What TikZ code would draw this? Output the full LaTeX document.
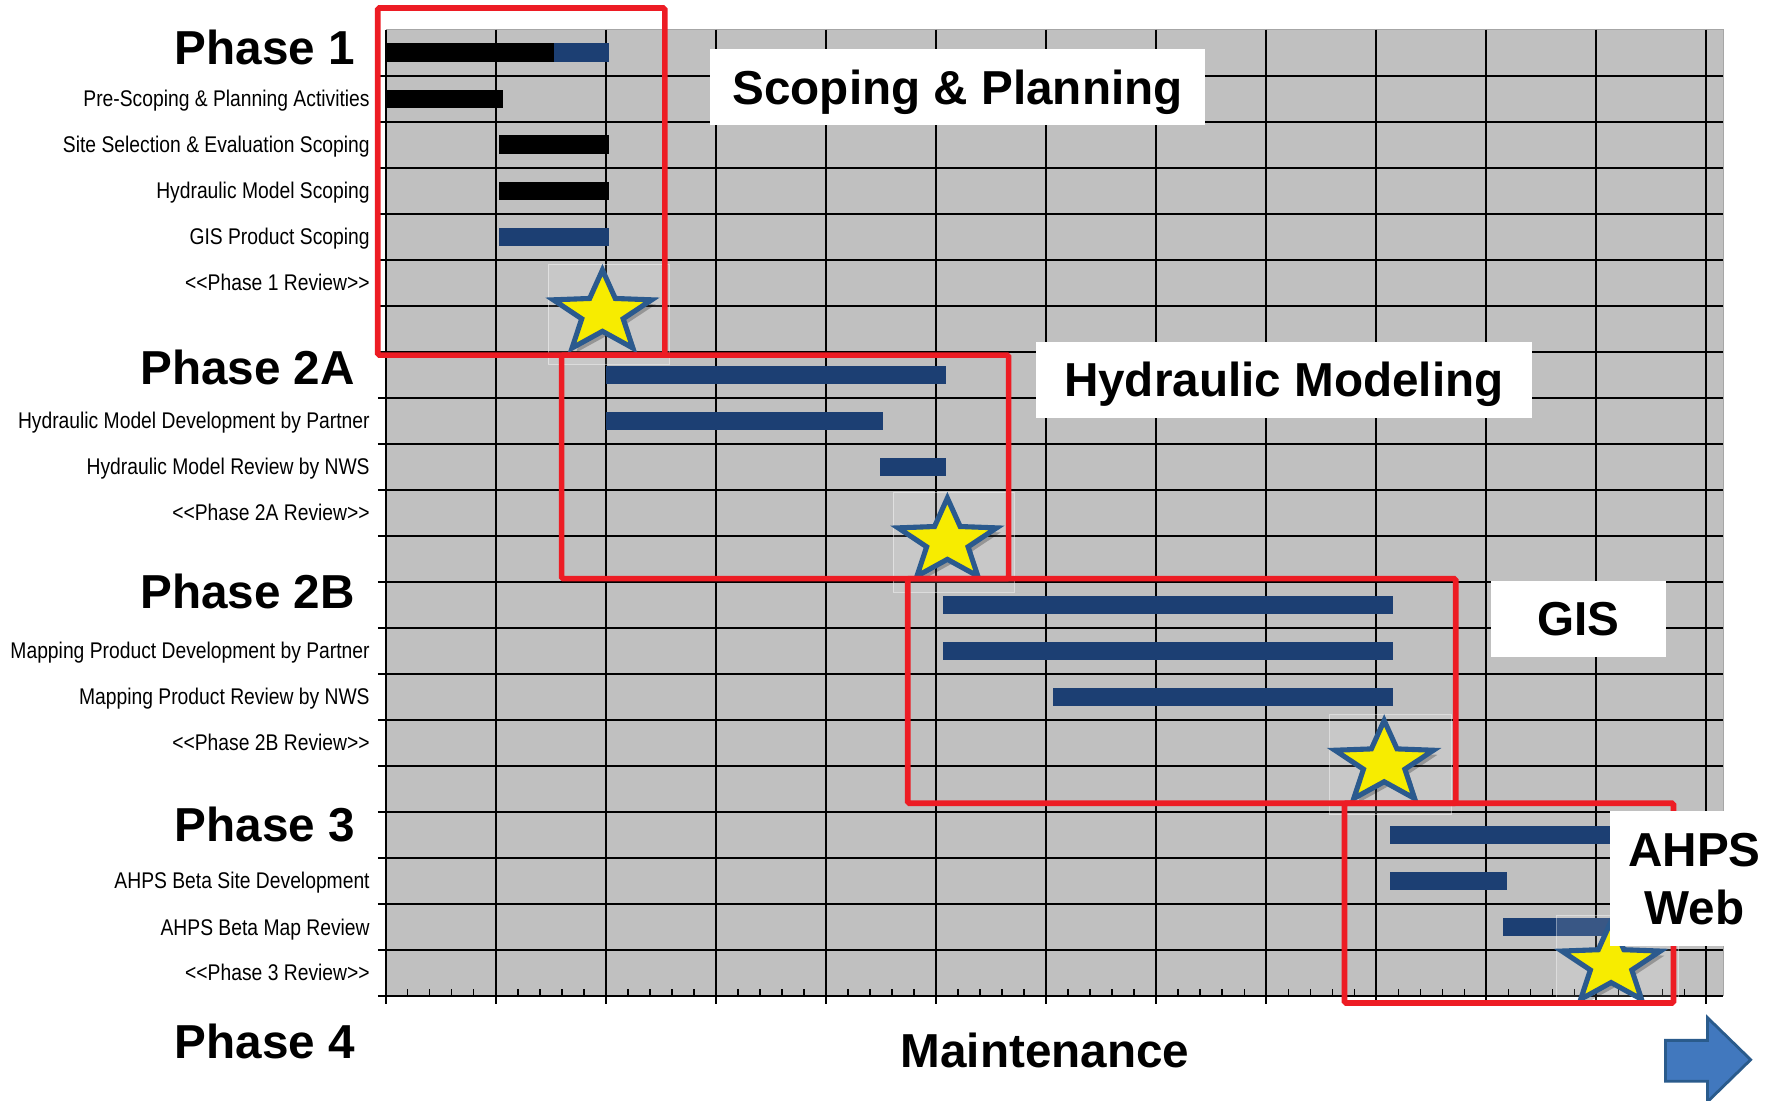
\documentclass[tikz,border=0pt]{standalone}
\usepackage{fontspec}
\setmainfont{Liberation Sans}
\definecolor{chartgray}{HTML}{C0C0C0}
\definecolor{barblue}{HTML}{1C3F73}
\definecolor{redbox}{HTML}{ED1C24}
\definecolor{staryellow}{HTML}{F7EC00}
\definecolor{starblue}{HTML}{2B5A8E}
\definecolor{arrowfill}{HTML}{4178BE}
\definecolor{arrowline}{HTML}{2A5B8C}
\begin{document}
\begin{tikzpicture}[x=1pt,y=-1pt,
  gridline/.style={black,line width=1.8pt},
  bluebar/.style={fill=barblue},
  blackbar/.style={fill=black},
  phaselabel/.style={anchor=east,inner sep=0pt,font=\fontsize{42}{44}\selectfont\bfseries},
  tasklabel/.style={anchor=base east,inner sep=0pt,font=\fontsize{20}{22}\selectfont},
  redframe/.style={draw=redbox,line width=5pt,rounded corners=1.5pt},
  whitelabel/.style={fill=white,inner sep=0pt,text depth=0pt,font=\fontsize{42}{51}\selectfont\bfseries,align=center},
  reviewstar/.pic={
    \fill[white,opacity=0.13] (-48,-43) rectangle (59,45);
    \draw[white,opacity=0.45,line width=0.6pt] (-48,-43) rectangle (59,45);
    \fill[black,opacity=0.25,xscale=1.2] ([xshift=3pt,yshift=-4pt]-90:38) -- ([xshift=3pt,yshift=-4pt]-54:16) -- ([xshift=3pt,yshift=-4pt]-18:38) -- ([xshift=3pt,yshift=-4pt]18:16) -- ([xshift=3pt,yshift=-4pt]54:38) -- ([xshift=3pt,yshift=-4pt]90:16) -- ([xshift=3pt,yshift=-4pt]126:38) -- ([xshift=3pt,yshift=-4pt]162:16) -- ([xshift=3pt,yshift=-4pt]198:38) -- ([xshift=3pt,yshift=-4pt]234:16) -- cycle;
    \draw[starblue,fill=staryellow,line width=4.5pt,line join=miter,xscale=1.2] (-90:38) -- (-54:16) -- (-18:38) -- (18:16) -- (54:38) -- (90:16) -- (126:38) -- (162:16) -- (198:38) -- (234:16) -- cycle;
  }
]
\fill[white] (0,0) rectangle (1568,970);
\useasboundingbox (0,0) rectangle (1568,970);

% chart area
\fill[chartgray] (340,26) rectangle (1519,878);
\draw[gray!70,line width=0.8pt] (340,26) -- (1519,26) -- (1519,878);
\foreach \k in {1,...,20} \draw[gridline] (333,{26+40.57*\k}) -- (1519,{26+40.57*\k});
\foreach \k in {0,...,12} \draw[gridline] ({340+97*\k},26) -- ({340+97*\k},885);
\draw[gridline] (333,878) -- (1519,878);
\foreach \k in {0,...,11} \foreach \m in {1,...,4} \draw[black,line width=1.2pt] ({340+97*\k+19.4*\m},878) -- ++(0,-6);

% bars
\fill[blackbar] (340,38.3) rectangle (488,54.3);
\fill[bluebar] (488,38.3) rectangle (537,54.3);
\fill[blackbar] (340,78.9) rectangle (443,94.9);
\fill[blackbar] (440,119.4) rectangle (537,135.4);
\fill[blackbar] (440,160) rectangle (537,176);
\fill[bluebar] (440,200.6) rectangle (537,216.6);
\fill[bluebar] (534,322.3) rectangle (834,338.3);
\fill[bluebar] (534,362.8) rectangle (778,378.8);
\fill[bluebar] (776,403.4) rectangle (834,419.4);
\fill[bluebar] (831,525.1) rectangle (1228,541.1);
\fill[bluebar] (831,565.7) rectangle (1228,581.7);
\fill[bluebar] (928,606.2) rectangle (1228,622.2);
\fill[bluebar] (1225,727.9) rectangle (1440,743.9);
\fill[bluebar] (1225,768.5) rectangle (1328,784.5);
\fill[bluebar] (1325,809.1) rectangle (1440,825.1);

% phase labels
\node[phaselabel] (ph1) at (313,42) {Phase 1};
\node[phaselabel] (ph2a) at (313,324) {Phase 2A};
\node[phaselabel] (ph2b) at (313,521) {Phase 2B};
\node[phaselabel] (ph3) at (313,727) {Phase 3};
\node[phaselabel] (ph4) at (313,918) {Phase 4};
\node[inner sep=0pt,font=\fontsize{42}{44}\selectfont\bfseries] (maint) at (921,926) {Maintenance};

% task labels
\node[tasklabel] (t1) at (326,93.9) {\scalebox{0.85}[1]{Pre-Scoping \& Planning Activities}};
\node[tasklabel] (t2) at (326,134.4) {\scalebox{0.85}[1]{Site Selection \& Evaluation Scoping}};
\node[tasklabel] (t3) at (326,175) {\scalebox{0.85}[1]{Hydraulic Model Scoping}};
\node[tasklabel] (t4) at (326,215.6) {\scalebox{0.85}[1]{GIS Product Scoping}};
\node[tasklabel] (t5) at (326,256.1) {\scalebox{0.85}[1]{<\kern0pt<Phase 1 Review>\kern0pt>}};
\node[tasklabel] (t8) at (326,377.8) {\scalebox{0.85}[1]{Hydraulic Model Development by Partner}};
\node[tasklabel] (t9) at (326,418.4) {\scalebox{0.85}[1]{Hydraulic Model Review by NWS}};
\node[tasklabel] (t10) at (326,459) {\scalebox{0.85}[1]{<\kern0pt<Phase 2A Review>\kern0pt>}};
\node[tasklabel] (t13) at (326,580.7) {\scalebox{0.85}[1]{Mapping Product Development by Partner}};
\node[tasklabel] (t14) at (326,621.2) {\scalebox{0.85}[1]{Mapping Product Review by NWS}};
\node[tasklabel] (t15) at (326,661.8) {\scalebox{0.85}[1]{<\kern0pt<Phase 2B Review>\kern0pt>}};
\node[tasklabel] (t18) at (326,783.5) {\scalebox{0.85}[1]{AHPS Beta Site Development}};
\node[tasklabel] (t19) at (326,824.1) {\scalebox{0.85}[1]{AHPS Beta Map Review}};
\node[tasklabel] (t20) at (326,864.6) {\scalebox{0.85}[1]{<\kern0pt<Phase 3 Review>\kern0pt>}};

% review stars
\pic at (531,276) {reviewstar};
\pic at (835,477) {reviewstar};
\pic at (1220,673) {reviewstar};
\pic at (1420,850) {reviewstar};

% red frames
\draw[redframe] (333,7) rectangle (586,313);
\draw[redframe] (495,313) rectangle (889,510);
\draw[redframe] (800,510) rectangle (1283,708);
\draw[redframe] (1185,708) rectangle (1475,884);

% white labels
\node[whitelabel,minimum width=436pt,minimum height=67pt] (scop) at (844,76.5) {Scoping \& Planning};
\node[whitelabel,minimum width=437pt,minimum height=67pt] (hydr) at (1131.5,334.5) {Hydraulic Modeling};
\node[whitelabel,minimum width=154pt,minimum height=67pt] (gis) at (1391,545.5) {GIS};
\node[whitelabel,minimum width=149pt,minimum height=119pt] (ahps) at (1493.5,774.5) {AHPS\\Web};

% arrow
\draw[arrowline,fill=arrowfill,line width=2.5pt,line join=miter] (1468,917) -- (1505,917) -- (1505,897) -- (1543,934) -- (1505,971) -- (1505,953) -- (1468,953) -- cycle;
\end{tikzpicture}
\end{document}
